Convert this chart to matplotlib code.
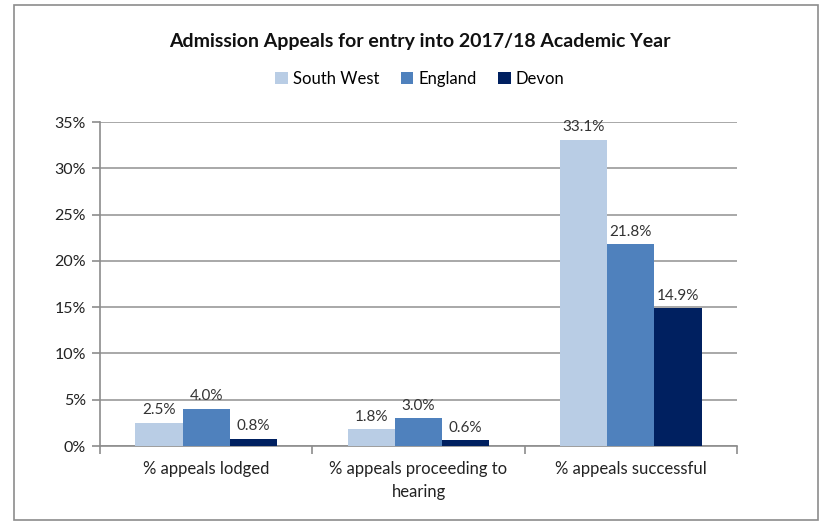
import matplotlib
matplotlib.use("Agg")
import matplotlib.pyplot as plt
import numpy as np
from matplotlib.patches import Rectangle
from matplotlib.ticker import MultipleLocator, FuncFormatter

categories = ["% appeals lodged", "% appeals proceeding to\nhearing", "% appeals successful"]
series_names = ["South West", "England", "Devon"]
south_west = [2.5, 1.8, 33.1]
england = [4.0, 3.0, 21.8]
devon = [0.8, 0.6, 14.9]
colors = ["#B9CDE5", "#4F81BD", "#002060"]

plt.rcParams['font.family'] = ['Lato', 'DejaVu Sans']

fig = plt.figure(figsize=(8.22, 5.22), dpi=100)
ax = fig.add_axes([100/822, 1-446/522, 637/822, 324/522])

fig.patches.append(Rectangle((14/822, 2/522), 804/822, 515/522, transform=fig.transFigure,
                             fill=False, edgecolor="#8c8c8c", linewidth=1.2))

x = np.arange(len(categories))
w = 0.222
values = [south_west, england, devon]
for i, (name, vals, c) in enumerate(zip(series_names, values, colors)):
    pos = x + (i - 1) * w
    bars = ax.bar(pos, vals, width=w, color=c, label=name, zorder=3)
    for b, v in zip(bars, vals):
        ax.text(b.get_x() + b.get_width()/2, v + 0.6, f"{v:.1f}%", ha="center", va="bottom",
                fontsize=11, color="#333333", zorder=4)

ax.set_xlim(-0.5, 2.5)
ax.set_ylim(0, 35)
ax.yaxis.set_major_locator(MultipleLocator(5))
ax.yaxis.set_major_formatter(FuncFormatter(lambda v, p: f"{v:.0f}%"))
ax.grid(axis="y", color="#9a9a9a", linewidth=1.2, zorder=0)
ax.set_axisbelow(True)
for s in ["top", "right"]:
    ax.spines[s].set_visible(False)
for s in ["left", "bottom"]:
    ax.spines[s].set_color("#8c8c8c")
    ax.spines[s].set_linewidth(1.2)

ax.set_xticks(x)
ax.set_xticklabels(categories, fontsize=12, color="#222222", linespacing=1.55)
ax.tick_params(axis="x", length=0, pad=11)
ax.set_xticks([-0.5, 0.5, 1.5, 2.5], minor=True)
ax.tick_params(axis="x", which="minor", length=6, color="#8c8c8c", width=1.2)
ax.tick_params(axis="y", length=6, color="#8c8c8c", width=1.2, labelsize=11.5, labelcolor="#222222", pad=4)

fig.text(420/822, 1-42/522, "Admission Appeals for entry into 2017/18 Academic Year", ha="center", va="center",
         fontsize=14, fontweight="bold", color="#111111")
fig.legend(loc="center", bbox_to_anchor=(420/822, 1-79/522), ncol=3, frameon=False, fontsize=12,
           handlelength=0.75, handleheight=0.75, handletextpad=0.3, columnspacing=1.3)

fig.savefig("out.png", dpi=100)
